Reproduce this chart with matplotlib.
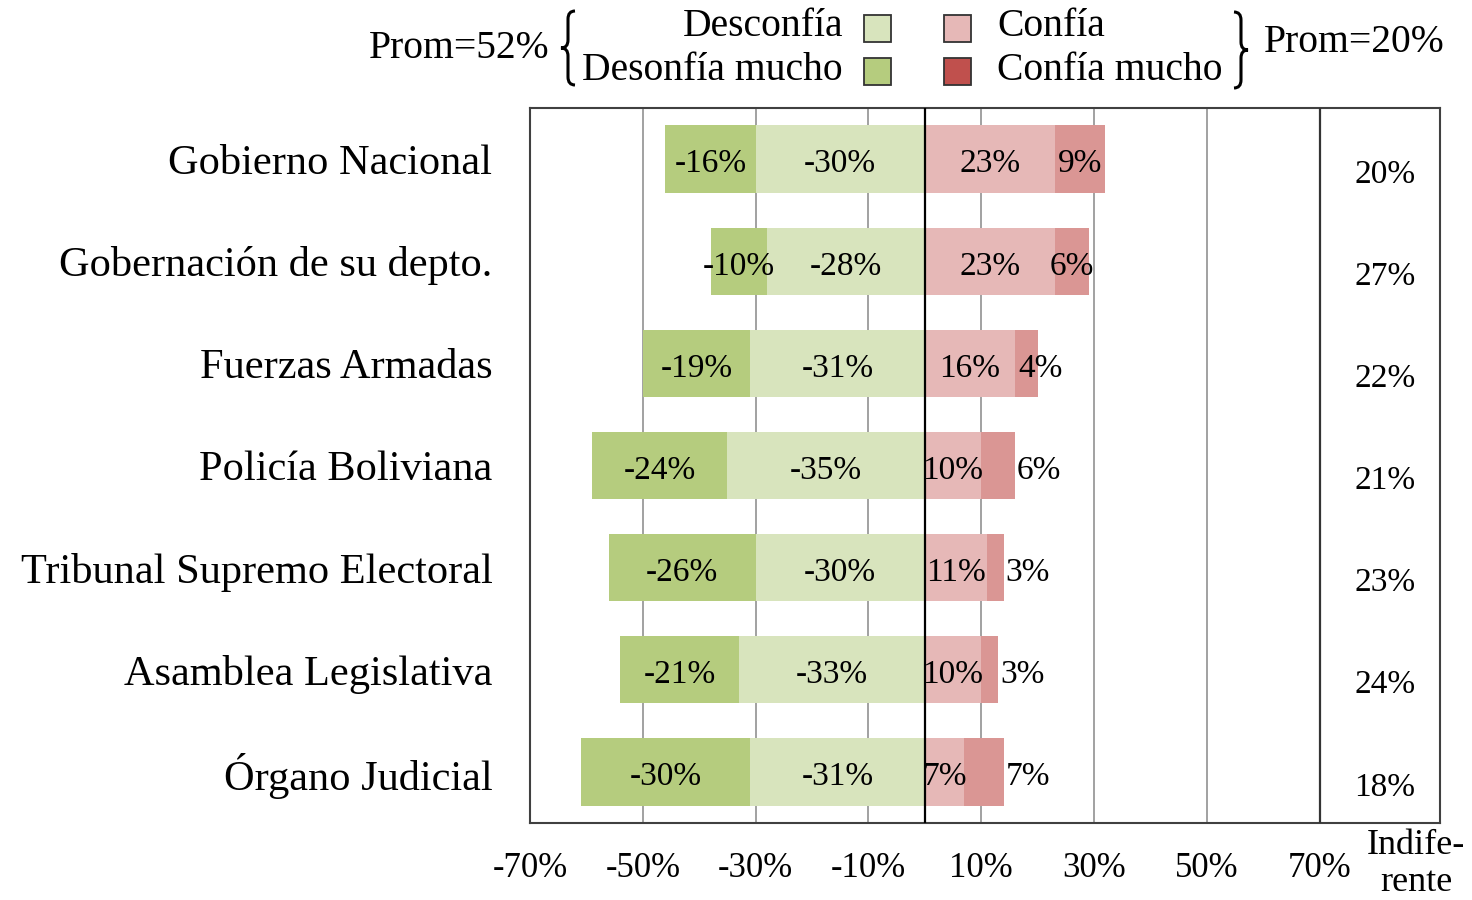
import matplotlib
matplotlib.use("Agg")
import matplotlib.pyplot as plt
from matplotlib.patches import Rectangle, PathPatch
from matplotlib.path import Path

plt.rcParams['font.family'] = ['Liberation Serif', 'DejaVu Serif']

categories = ["Gobierno Nacional", "Gobernación de su depto.", "Fuerzas Armadas",
              "Policía Boliviana", "Tribunal Supremo Electoral", "Asamblea Legislativa",
              "Órgano Judicial"]
desconfia_mucho = [16, 10, 19, 24, 26, 21, 30]
desconfia = [30, 28, 31, 35, 30, 33, 31]
confia = [23, 23, 16, 10, 11, 10, 7]
confia_mucho = [9, 6, 4, 6, 3, 3, 7]
indiferente = [20, 27, 22, 21, 23, 24, 18]
xticks = [-70, -50, -30, -10, 10, 30, 50, 70]
prom_desconfia = 52
prom_confia = 20

c_dm = "#b5cc7e"
c_d = "#d8e4bd"
c_c = "#e6b8b7"
c_cm = "#da9694"
c_cm_leg = "#c0504d"

W, H = 1472, 900
fig = plt.figure(figsize=(W / 100, H / 100), dpi=100)
ax = fig.add_axes([530 / W, (H - 823) / H, 910 / W, 715 / H])

n = len(categories)
y = list(range(n))
bh = 0.66

neg_inner = [-v for v in desconfia]
ax.barh(y, neg_inner, height=bh, color=c_d, linewidth=0, zorder=2)
ax.barh(y, [-v for v in desconfia_mucho], left=neg_inner, height=bh, color=c_dm, linewidth=0, zorder=2)
ax.barh(y, confia, height=bh, color=c_c, linewidth=0, zorder=2)
ax.barh(y, confia_mucho, left=confia, height=bh, color=c_cm, linewidth=0, zorder=2)

lab_fs = 24
dy = 0.05
for i in range(n):
    d = desconfia[i]
    dm = desconfia_mucho[i]
    c = confia[i]
    cm = confia_mucho[i]
    ax.text(-d / 2, i + dy, f"-{d}%", ha='center', va='center', fontsize=lab_fs, zorder=4)
    ax.text(-d - dm / 2, i + dy, f"-{dm}%", ha='center', va='center', fontsize=lab_fs, zorder=4)
    ax.text(c / 2, i + dy, f"{c}%", ha='center', va='center', fontsize=lab_fs, zorder=4)
    if c + cm > 20:
        ax.text(c + cm / 2, i + dy, f"{cm}%", ha='center', va='center', fontsize=lab_fs, zorder=4)
    elif c + cm == 20:
        ax.text(c + cm - 3.5, i + dy, f"{cm}%", ha='left', va='center', fontsize=lab_fs, zorder=4)
    else:
        ax.text(c + cm + 0.3, i + dy, f"{cm}%", ha='left', va='center', fontsize=lab_fs, zorder=4)
    ax.text(81.5, i + 0.15, f"{indiferente[i]}%", ha='center', va='center', fontsize=lab_fs, zorder=4)

for g in [-50, -30, -10, 10, 30, 50]:
    ax.axvline(g, color="#9a9a9a", lw=1.3, zorder=1)
ax.axvline(0, color="black", lw=1.6, zorder=3)
ax.axvline(70, color="#333333", lw=1.6, zorder=3)

ax.set_xlim(-70, 91.3)
ax.set_ylim(n - 0.5, -0.5)
ax.set_xticks(xticks)
ax.set_xticklabels([f"{t}%" for t in xticks], fontsize=25)
ax.set_yticks(y)
ax.set_yticklabels(categories, fontsize=30.5)
ax.tick_params(axis='both', length=0)
ax.tick_params(axis='x', pad=21)
ax.tick_params(axis='y', pad=27)
for s in ax.spines.values():
    s.set_color("#404040")
    s.set_linewidth(1.5)

fig.text(1416 / W, 1 - 864 / H, "Indife-\nrente", ha='center', va='center', fontsize=26,
         linespacing=1.15)


def fx(px):
    return px / W


def fy(py):
    return 1 - py / H


def brace(x_tip, x_end, top, bottom):
    # x_tip: pointed side, x_end: side of the arms, in pixels
    mid = (top + bottom) / 2
    xm = (x_tip + x_end) / 2
    r = 8
    pts = [(x_end, top), (xm, top), (xm, top + r),
           (xm, mid - r), (xm, mid), (x_tip, mid),
           (xm, mid), (xm, mid + r),
           (xm, bottom - r), (xm, bottom), (x_end, bottom)]
    codes = [Path.MOVETO, Path.CURVE3, Path.CURVE3,
             Path.LINETO, Path.CURVE3, Path.CURVE3,
             Path.CURVE3, Path.CURVE3,
             Path.LINETO, Path.CURVE3, Path.CURVE3]
    verts = [(fx(px), fy(py)) for px, py in pts]
    fig.patches.append(PathPatch(Path(verts, codes), transform=fig.transFigure,
                                 facecolor='none', edgecolor='black', lw=2.2))


leg_fs = 28.5
fig.text(fx(549), fy(48), f"Prom={prom_desconfia}%", ha='right', va='center', fontsize=leg_fs)
brace(561, 575, 11, 85)
fig.text(fx(843), fy(27), "Desconfía", ha='right', va='center', fontsize=leg_fs)
fig.text(fx(843), fy(70), "Desonfía mucho", ha='right', va='center', fontsize=leg_fs)
fig.text(fx(997), fy(27), "Confía", ha='left', va='center', fontsize=leg_fs)
fig.text(fx(997), fy(70), "Confía mucho", ha='left', va='center', fontsize=leg_fs)
brace(1248, 1234, 12, 88)
fig.text(fx(1264), fy(42), f"Prom={prom_confia}%", ha='left', va='center', fontsize=leg_fs)

sq = 27
for (px, py, col) in [(864, 15, c_d), (864, 58, c_dm), (944, 15, c_c), (944, 58, c_cm_leg)]:
    fig.patches.append(Rectangle((fx(px), fy(py + sq)), sq / W, sq / H, transform=fig.transFigure,
                                 facecolor=col, edgecolor="#333333", lw=1.3))

fig.savefig("out.png", dpi=100)
